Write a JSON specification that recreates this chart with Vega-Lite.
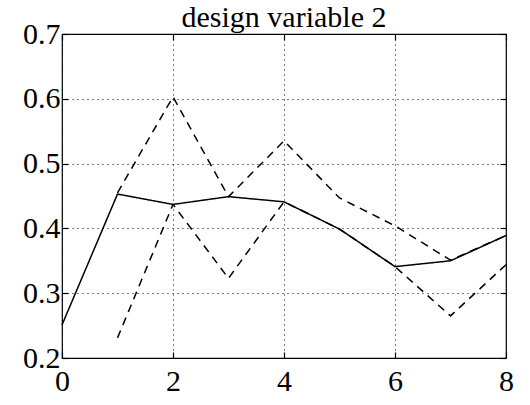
{
  "$schema": "https://vega.github.io/schema/vega-lite/v6.json",
  "autosize": "none",
  "width": 444,
  "height": 324,
  "padding": {"left": 62, "top": 34, "right": 24, "bottom": 47},
  "background": "white",
  "title": {"text": "design variable 2", "font": "Liberation Serif", "fontSize": 30, "fontWeight": "normal", "color": "black", "offset": -14},
  "config": {
    "view": {"stroke": "black", "strokeWidth": 1.2},
    "axis": {"labelFont": "Liberation Serif", "labelFontSize": 30, "labelColor": "black", "domain": false, "tickColor": "black", "tickSize": -6, "tickWidth": 1.2, "grid": true, "gridColor": "black", "gridDash": [1, 4], "gridWidth": 1, "gridOpacity": 1, "title": null}
  },
  "data": {"values": [
    {"x": 0, "y": 0.251, "s": "mean"},
    {"x": 1, "y": 0.453, "s": "mean"},
    {"x": 2, "y": 0.437, "s": "mean"},
    {"x": 3, "y": 0.449, "s": "mean"},
    {"x": 4, "y": 0.441, "s": "mean"},
    {"x": 5, "y": 0.399, "s": "mean"},
    {"x": 6, "y": 0.341, "s": "mean"},
    {"x": 7, "y": 0.350, "s": "mean"},
    {"x": 8, "y": 0.389, "s": "mean"},
    {"x": 1, "y": 0.455, "s": "upper"},
    {"x": 2, "y": 0.603, "s": "upper"},
    {"x": 3, "y": 0.449, "s": "upper"},
    {"x": 4, "y": 0.535, "s": "upper"},
    {"x": 5, "y": 0.447, "s": "upper"},
    {"x": 6, "y": 0.404, "s": "upper"},
    {"x": 7, "y": 0.351, "s": "upper"},
    {"x": 8, "y": 0.389, "s": "upper"},
    {"x": 1, "y": 0.231, "s": "lower"},
    {"x": 2, "y": 0.437, "s": "lower"},
    {"x": 3, "y": 0.323, "s": "lower"},
    {"x": 4, "y": 0.441, "s": "lower"},
    {"x": 5, "y": 0.399, "s": "lower"},
    {"x": 6, "y": 0.341, "s": "lower"},
    {"x": 7, "y": 0.265, "s": "lower"},
    {"x": 8, "y": 0.344, "s": "lower"}
  ]},
  "layer": [
    {
      "mark": {"type": "line", "color": "black", "strokeWidth": 1.5},
      "encoding": {
        "x": {"field": "x", "type": "quantitative", "scale": {"domain": [0, 8], "nice": false},
              "axis": {"values": [0, 2, 4, 6, 8], "labelPadding": 14, "labelFlush": false, "labelBound": false}},
        "y": {"field": "y", "type": "quantitative", "scale": {"domain": [0.2, 0.7], "nice": false, "zero": false},
              "axis": {"values": [0.2, 0.3, 0.4, 0.5, 0.6, 0.7], "format": ".1f", "labelPadding": 8, "labelFlush": false, "labelBound": false}},
        "detail": {"field": "s"},
        "strokeDash": {"field": "s", "type": "nominal", "scale": {"domain": ["mean", "upper", "lower"], "range": [[1, 0], [8, 6], [8, 6]]}, "legend": null}
      }
    },
    {
      "mark": {"type": "rule", "opacity": 0},
      "encoding": {
        "x": {"datum": 0, "type": "quantitative", "axis": {"orient": "top", "values": [0, 2, 4, 6, 8], "labels": false, "grid": false}},
        "y": {"datum": 0.2, "type": "quantitative", "axis": {"orient": "right", "values": [0.2, 0.3, 0.4, 0.5, 0.6, 0.7], "labels": false, "grid": false}}
      }
    }
  ],
  "resolve": {"axis": {"x": "independent", "y": "independent"}}
}
